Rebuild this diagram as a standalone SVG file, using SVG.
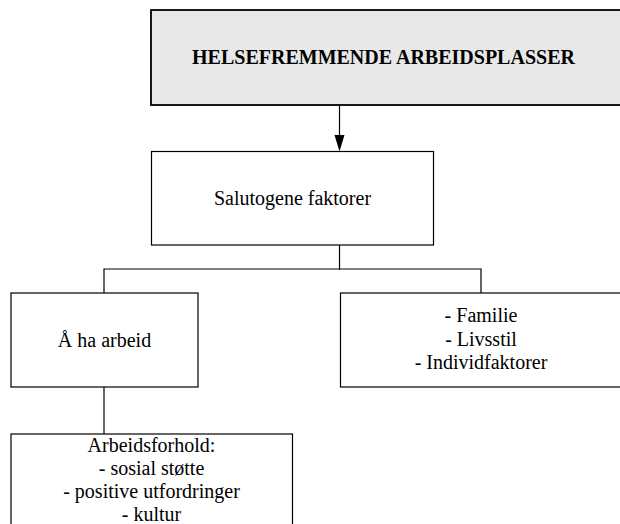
<svg xmlns="http://www.w3.org/2000/svg" width="620" height="524" viewBox="0 0 620 524">
  <style>
    .box { fill: #ffffff; stroke: #000000; stroke-width: 1.2; }
    .head { fill: #e8e8e8; stroke: #000000; stroke-width: 1.8; }
    .lbl { font-family: "Liberation Serif", "Times New Roman", serif; font-size: 20px; fill: #000000; text-anchor: middle; }
    .bold { font-weight: bold; }
    .wire { stroke: #000000; stroke-width: 1.2; fill: none; }
    .tip { fill: #000000; stroke: none; }
  </style>

  <rect width="620" height="524" fill="#ffffff"/>

  <g id="connectors">
    <line class="wire" x1="339.5" y1="105" x2="339.5" y2="137"/>
    <polygon class="tip" points="334.5,135 344.5,135 339.5,151.5"/>
    <line class="wire" x1="339.5" y1="245" x2="339.5" y2="270"/>
    <polyline class="wire" points="104,293 104,269 481,269 481,293"/>
    <line class="wire" x1="104" y1="387" x2="104" y2="434"/>
  </g>

  <g id="helsefremmende">
    <rect class="head" x="151" y="10" width="480" height="95"/>
    <text class="lbl bold" x="383.5" y="63.5">HELSEFREMMENDE ARBEIDSPLASSER</text>
  </g>

  <g id="salutogene">
    <rect class="box" x="151.5" y="151.5" width="282" height="93.5"/>
    <text class="lbl" x="292.5" y="205">Salutogene faktorer</text>
  </g>

  <g id="arbeid">
    <rect class="box" x="11" y="293" width="187" height="94"/>
    <text class="lbl" x="104.5" y="346.5">Å ha arbeid</text>
  </g>

  <g id="andre">
    <rect class="box" x="340.5" y="293" width="290" height="94"/>
    <text class="lbl" x="481" y="322">- Familie</text>
    <text class="lbl" x="481" y="345.5">- Livsstil</text>
    <text class="lbl" x="481" y="369">- Individfaktorer</text>
  </g>

  <g id="arbeidsforhold">
    <rect class="box" x="11" y="434" width="281.5" height="100"/>
    <text class="lbl" x="151.5" y="452">Arbeidsforhold:</text>
    <text class="lbl" x="151.5" y="475">- sosial støtte</text>
    <text class="lbl" x="151.5" y="498">- positive utfordringer</text>
    <text class="lbl" x="151.5" y="521">- kultur</text>
  </g>
</svg>
